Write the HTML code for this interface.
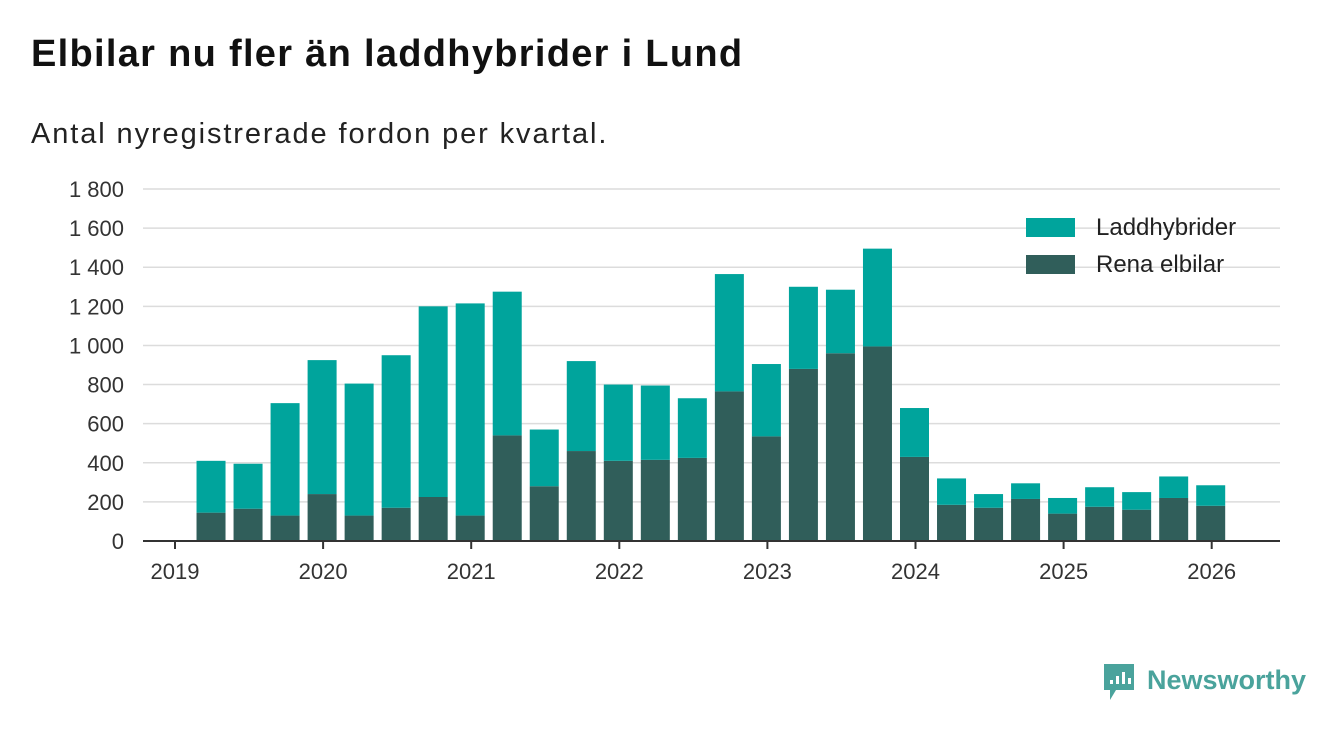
<!DOCTYPE html>
<html><head><meta charset="utf-8">
<style>
body{margin:0;background:#fff;font-family:"Liberation Sans",sans-serif;}
#wrap{position:relative;width:1340px;height:733px;overflow:hidden;}
h1{position:absolute;left:31px;top:33px;margin:0;font-size:38px;letter-spacing:1.3px;font-weight:bold;color:#111;}
.sub{position:absolute;left:31px;top:118px;font-size:29px;letter-spacing:1.9px;color:#222;}
svg text{font-family:"Liberation Sans",sans-serif;}
</style></head><body>
<div id="wrap">
<h1>Elbilar nu fler än laddhybrider i Lund</h1>
<div class="sub">Antal nyregistrerade fordon per kvartal.</div>
<svg id="chart" width="1340" height="733" style="position:absolute;left:0;top:0"></svg>
</div>
<script>
const quarters = [2019.25,2019.5,2019.75,2020,2020.25,2020.5,2020.75,2021,2021.25,2021.5,2021.75,2022,2022.25,2022.5,2022.75,2023,2023.25,2023.5,2023.75,2024,2024.25,2024.5,2024.75,2025,2025.25,2025.5,2025.75,2026];
const elbilar = [145,165,130,240,130,170,225,130,540,280,460,410,415,425,765,535,880,960,995,430,185,170,215,140,175,160,220,180];
const laddhybrider = [265,230,575,685,675,780,975,1085,735,290,460,390,380,305,600,370,420,325,500,250,135,70,80,80,100,90,110,105];
const yTicks = [0,200,400,600,800,1000,1200,1400,1600,1800];
const yTickLabels = ["0","200","400","600","800","1 000","1 200","1 400","1 600","1 800"];
const xTicks = [2019,2020,2021,2022,2023,2024,2025,2026];

const svg = document.getElementById('chart');
const NS = 'http://www.w3.org/2000/svg';
const x0 = 175, xPerYear = 148.1, yBase = 541, yPerUnit = 352/1800, barW = 29;
const xs = v => x0 + (v - 2019) * xPerYear;
const ys = v => yBase - v * yPerUnit;
function mk(tag, attrs){const e=document.createElementNS(NS,tag);for(const k in attrs)e.setAttribute(k,attrs[k]);svg.appendChild(e);return e;}

yTicks.forEach((t,i)=>{
  if(t>0){const g=mk('line',{x1:143,x2:1280,y1:ys(t),y2:ys(t),stroke:'#dcdcdc','stroke-width':1.5});
  
  }
  const l=mk('text',{x:124,y:ys(t)+8,'text-anchor':'end','font-size':22,fill:'#333'});
  l.textContent=yTickLabels[i];
  
  
});
quarters.forEach((q,i)=>{
  const cx=xs(q)-1;
  const b1=mk('rect',{x:cx-barW/2,y:ys(elbilar[i]),width:barW,height:elbilar[i]*yPerUnit,fill:'#305e5a'});
  
  
  const tot=elbilar[i]+laddhybrider[i];
  const b2=mk('rect',{x:cx-barW/2,y:ys(tot),width:barW,height:laddhybrider[i]*yPerUnit,fill:'#00a49c'});
  
  
});
const ax=mk('line',{x1:143,x2:1280,y1:yBase,y2:yBase,stroke:'#333','stroke-width':2});


xTicks.forEach(t=>{
  const tk=mk('line',{x1:xs(t),x2:xs(t),y1:yBase,y2:yBase+8,stroke:'#333','stroke-width':2});
  
  
  const l=mk('text',{x:xs(t),y:579,'text-anchor':'middle','font-size':22,fill:'#333'});
  l.textContent=String(t);
  
  
});
[['Laddhybrider','#00a49c',218],['Rena elbilar','#305e5a',255]].forEach(([n,c,y])=>{
  const s=mk('rect',{x:1026,y:y,width:49,height:19,fill:c});
  
  
  const t=mk('text',{x:1096,y:y+17,'font-size':24,fill:'#222'});
  t.textContent=n;
  
  
});
const lg=mk('path',{d:'M1104 664 h30 v26 h-18 l-6 10 v-10 h-6 z',fill:'#4aa39c'});


[[1110,680,4],[1116,676,8],[1122,672,12],[1128,678,6]].forEach(([x,y,h])=>{
  const r=mk('rect',{x:x,y:y,width:3,height:h,fill:'#fff'});
  
  
});
const lt=mk('text',{x:1147,y:689,'font-size':27,'font-weight':'bold',fill:'#4aa39c'});
lt.textContent='Newsworthy';


</script>
</body></html>
